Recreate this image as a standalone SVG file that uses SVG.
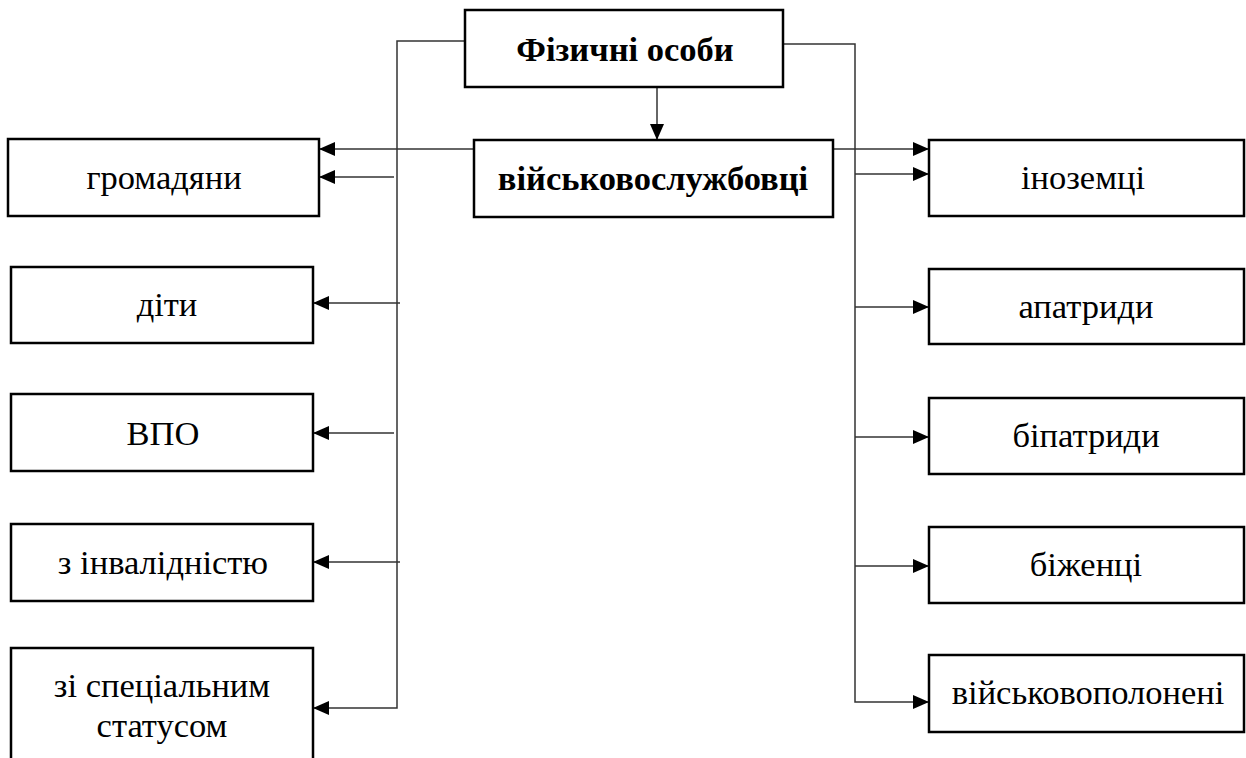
<svg xmlns="http://www.w3.org/2000/svg" width="1246" height="758" viewBox="0 0 1246 758">
<style>
.box{fill:#fff;stroke:#000;stroke-width:2.5}
.t{font-family:'Liberation Serif','Times New Roman',serif;font-size:34.5px;fill:#000;text-anchor:middle}
.b{font-weight:bold}
.c{fill:none;stroke:#333;stroke-width:1.5}
</style>
<defs>
<marker id="ah" viewBox="0 0 16 14" refX="16" refY="7" markerWidth="16" markerHeight="14" markerUnits="userSpaceOnUse" orient="auto">
<path d="M0,0 L16,7 L0,14 Z" fill="#000"/>
</marker>
</defs>
<rect width="1246" height="758" fill="#fff"/>
<g id="connectors">
<polyline class="c" points="465,41 397,41 397,708 313,708" marker-end="url(#ah)"/>
<polyline class="c" points="783,44 855,44 855,702 929,702" marker-end="url(#ah)"/>
<line class="c" x1="657" y1="87" x2="657" y2="140" marker-end="url(#ah)"/>
<line class="c" x1="474" y1="149" x2="319" y2="149" marker-end="url(#ah)"/>
<line class="c" x1="394" y1="177" x2="319" y2="177" marker-end="url(#ah)"/>
<line class="c" x1="400" y1="303" x2="313" y2="303" marker-end="url(#ah)"/>
<line class="c" x1="394" y1="433" x2="313" y2="433" marker-end="url(#ah)"/>
<line class="c" x1="400" y1="562" x2="313" y2="562" marker-end="url(#ah)"/>
<line class="c" x1="833" y1="149" x2="929" y2="149" marker-end="url(#ah)"/>
<line class="c" x1="855" y1="174" x2="929" y2="174" marker-end="url(#ah)"/>
<line class="c" x1="855" y1="307" x2="929" y2="307" marker-end="url(#ah)"/>
<line class="c" x1="855" y1="437" x2="929" y2="437" marker-end="url(#ah)"/>
<line class="c" x1="855" y1="566" x2="929" y2="566" marker-end="url(#ah)"/>
</g>
<g id="n-fizychni">
<rect class="box" x="465" y="10" width="318" height="77"/>
<text class="t b" x="625" y="61">Фізичні особи</text>
</g>
<g id="n-viiskovi">
<rect class="box" x="474" y="140" width="359" height="77"/>
<text class="t b" x="653" y="190">військовослужбовці</text>
</g>
<g id="n-gromadiany">
<rect class="box" x="8" y="139" width="311" height="77"/>
<text class="t" x="164" y="189">громадяни</text>
</g>
<g id="n-dity">
<rect class="box" x="11" y="267" width="302" height="76"/>
<text class="t" x="167" y="316">діти</text>
</g>
<g id="n-vpo">
<rect class="box" x="11" y="394" width="302" height="77"/>
<text class="t" x="163" y="445">ВПО</text>
</g>
<g id="n-invalid">
<rect class="box" x="11" y="524" width="302" height="77"/>
<text class="t" x="163" y="574">з інвалідністю</text>
</g>
<g id="n-special">
<rect class="box" x="11" y="648" width="302" height="120"/>
<text class="t" x="162" y="697">зі спеціальним</text>
<text class="t" x="162" y="737">статусом</text>
</g>
<g id="n-inozemtsi">
<rect class="box" x="929" y="140" width="315" height="76"/>
<text class="t" x="1083" y="189">іноземці</text>
</g>
<g id="n-apatrydy">
<rect class="box" x="929" y="269" width="315" height="75"/>
<text class="t" x="1086" y="318">апатриди</text>
</g>
<g id="n-bipatrydy">
<rect class="box" x="929" y="398" width="315" height="76"/>
<text class="t" x="1086" y="447">біпатриди</text>
</g>
<g id="n-bizhentsi">
<rect class="box" x="929" y="527" width="315" height="76"/>
<text class="t" x="1086" y="576">біженці</text>
</g>
<g id="n-polon">
<rect class="box" x="929" y="655" width="315" height="77"/>
<text class="t" x="1088" y="704">військовополонені</text>
</g>
</svg>
